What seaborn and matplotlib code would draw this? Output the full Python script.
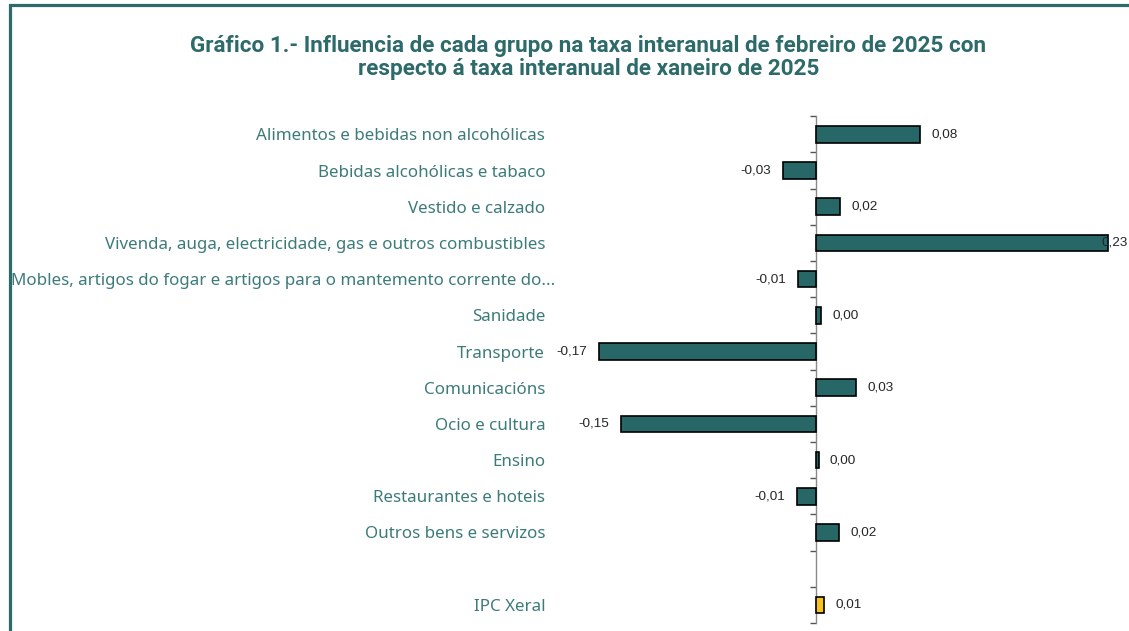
import pandas as pd
import seaborn as sns
import matplotlib.pyplot as plt
from matplotlib.patches import Rectangle
from matplotlib.transforms import ScaledTranslation

# Data
categories = [
    "Alimentos e bebidas non alcohólicas",
    "Bebidas alcohólicas e tabaco",
    "Vestido e calzado",
    "Vivenda, auga, electricidade, gas e outros combustibles",
    "Mobles, artigos do fogar e artigos para o mantemento corrente do...",
    "Sanidade",
    "Transporte",
    "Comunicacións",
    "Ocio e cultura",
    "Ensino",
    "Restaurantes e hoteis",
    "Outros bens e servizos",
    "IPC Xeral",
]
values = [0.081, -0.026, 0.019, 0.227, -0.014, 0.004, -0.169,
          0.031, -0.152, 0.002, -0.0145, 0.018, 0.006]

TEAL = "#276767"
GOLD = "#f7c21c"
TEXT_TEAL = "#3d7b7b"
TITLE_TEAL = "#2d6a6a"


def main():
    df = pd.DataFrame({"grupo": categories, "valor": values})
    # blank slot before the general index
    order = categories[:-1] + [" "] + categories[-1:]
    palette = {c: TEAL for c in categories}
    palette["IPC Xeral"] = GOLD

    sns.set_style("white")
    plt.rcParams["font.family"] = ["Noto Sans", "DejaVu Sans"]

    fig = plt.figure(figsize=(11.29, 6.31), dpi=100)
    ax = fig.add_axes([0.4952, 0.0127, 0.4951, 0.8031])

    sns.barplot(data=df, x="valor", y="grupo", hue="grupo", order=order,
                palette=palette, legend=False, width=0.46, saturation=1,
                edgecolor="black", linewidth=1.2, ax=ax)

    ax.set_xlim(-0.2, 0.235)
    ax.set_xlabel("")
    ax.set_ylabel("")
    ax.set_xticks([])
    for s in ax.spines.values():
        s.set_visible(False)
    ax.tick_params(axis="y", length=0, pad=10, labelsize=12.2,
                   labelcolor=TEXT_TEAL)
    # the truncated long label sticks out a little further right
    for lab in ax.get_yticklabels():
        if lab.get_text().endswith("..."):
            lab.set_transform(lab.get_transform() +
                              ScaledTranslation(0.1, 0, fig.dpi_scale_trans))

    # vertical axis at zero with ticks between categories
    x0 = (0 - ax.get_xlim()[0]) / (ax.get_xlim()[1] - ax.get_xlim()[0])
    sec = ax.secondary_yaxis(x0)
    sec.set_yticks([i - 0.5 for i in range(len(order) + 1)])
    sec.set_yticklabels([])
    sec.tick_params(length=4.5, width=1, color="#555555")
    sec.spines["left"].set_color("#8a8a8a")
    sec.spines["left"].set_linewidth(1)

    # value labels
    pos = {c: i for i, c in enumerate(order)}
    for c, v in zip(categories, values):
        txt = f"{v:.2f}".replace(".", ",")
        if v >= 0:
            x = min(v + 0.0088, 0.2225)
            ha = "left"
        else:
            x = v - 0.0092
            ha = "right"
        ax.text(x, pos[c], txt, ha=ha, va="center", fontsize=9.7,
                color="#262626", family=["Liberation Sans", "DejaVu Sans"],
                clip_on=False)

    fig.text(0.521, 0.909,
             "Gráfico 1.- Influencia de cada grupo na taxa interanual de febreiro de 2025 con\n"
             "respecto á taxa interanual de xaneiro de 2025",
             ha="center", va="center", fontsize=16.2, fontweight="bold",
             color=TITLE_TEAL, linespacing=1.05,
             family=["Roboto", "DejaVu Sans"])

    # frame around the chart (only left and top visible in the crop)
    fig.patches.append(Rectangle((9.5 / 1129, -0.5), 2.0, 1.5 - 4.5 / 631,
                                 transform=fig.transFigure, fill=False,
                                 edgecolor=TITLE_TEAL, linewidth=2.3,
                                 figure=fig))

    fig.savefig("out.png", dpi=100)
    plt.close(fig)


if __name__ == "__main__":
    main()
